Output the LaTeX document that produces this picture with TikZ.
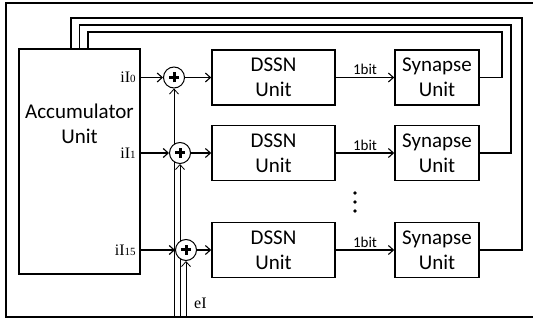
\documentclass[tikz,border=0pt]{standalone}
\usepackage{fontspec}
\setmainfont{Carlito}
\newfontfamily\serifcur{Liberation Serif}
\usetikzlibrary{arrows.meta,backgrounds}

\begin{document}
\begin{tikzpicture}[x=1pt, y=-1pt,
	unit/.style={draw, line width=1.6pt, minimum width=123pt, minimum height=55pt, inner sep=0pt, align=center, font=\fontsize{21}{25}\selectfont},
	synbox/.style={unit, minimum width=84pt},
	adder/.style={draw, circle, line width=1pt, fill=white, minimum size=21pt, inner sep=0pt,
		path picture={\draw[line width=3pt] (path picture bounding box.center) +(-5pt,0) -- +(5pt,0)
			(path picture bounding box.center) +(0,-5pt) -- +(0,5pt);}},
	arrow/.style={-{Straight Barb[length=5pt,width=9pt]}, line width=1.1pt},
	feed/.style={-{Straight Barb[length=5pt,width=9pt]}, line width=0.8pt},
	wire/.style={line width=1.2pt},
	bits/.style={above, inner sep=2pt, font=\fontsize{15}{15}\selectfont},
	current/.style={inner sep=1pt, font=\serifcur\fontsize{16}{16}\selectfont}
]
\useasboundingbox (0,0) rectangle (533,323);

% frame (right side runs off the page)
\draw[line width=2pt] (545,3) -- (6,3) -- (6,317) -- (545,317);

% accumulator
\node[draw, line width=1.6pt, minimum width=121pt, minimum height=225pt] (acc) at (79.5,161.5) {};
\node[align=center, font=\fontsize{21}{25}\selectfont] (acctext) at (79.5,124) {Accumulator\\Unit};

% adders
\node[adder] (s0) at (174,77.5) {};
\node[adder] (s1) at (180,153) {};
\node[adder] (s2) at (186,250) {};

% neuron and synapse units
\node[unit] (d0) at (273.5,77.5) {DSSN\\Unit};
\node[unit] (d1) at (273.5,153) {DSSN\\Unit};
\node[unit] (d2) at (273.5,250) {DSSN\\Unit};

\node[synbox] (p0) at (437,77.5) {Synapse\\Unit};
\node[synbox] (p1) at (437,153) {Synapse\\Unit};
\node[synbox] (p2) at (437,250) {Synapse\\Unit};

% currents out of the accumulator
\node[current, anchor=east] (i0) at ([xshift=-4pt]acc.east |- s0) {iI{\fontsize{11}{11}\selectfont 0}};
\node[current, anchor=east] (i1) at ([xshift=-4pt]acc.east |- s1) {iI{\fontsize{11}{11}\selectfont 1}};
\node[current, anchor=east] (i2) at ([xshift=-4pt]acc.east |- s2) {iI{\fontsize{11}{11}\selectfont 15}};

\draw[arrow] (acc.east |- s0) -- (s0);
\draw[arrow] (acc.east |- s1) -- (s1);
\draw[arrow] (acc.east |- s2) -- (s2);

\draw[arrow] (s0) -- (d0);
\draw[arrow] (s1) -- (d1);
\draw[arrow] (s2) -- (d2);

\draw[arrow] (d0) -- node[bits] {1bit} (p0);
\draw[arrow] (d1) -- node[bits] {1bit} (p1);
\draw[arrow] (d2) -- node[bits] {1bit} (p2);

% more rows
\foreach \y in {193,202,211}
	\fill (355,\y) circle (1.9pt);

% external input lines
\coordinate (e0) at (174,316);
\coordinate (e1) at (180,316);
\coordinate (e2) at (186,316);
\node[current, anchor=west] (ei) at (193,303) {eI};

\begin{scope}[on background layer]
\draw[feed] (e0) -- (s0);
\draw[feed] (e1) -- (s1);
\draw[feed] (e2) -- (s2);
\end{scope}

% feedback to the accumulator
\coordinate (f0) at (502,32);
\coordinate (f1) at (511,25);
\coordinate (f2) at (522,18);
\coordinate (t0) at (88,0);
\coordinate (t1) at (79.5,0);
\coordinate (t2) at (71,0);

\draw[wire] (p0.east) -| (f0) -| (t0 |- acc.north);
\draw[wire] (p1.east) -| (f1) -| (t1 |- acc.north);
\draw[wire] (p2.east) -| (f2) -| (t2 |- acc.north);
\end{tikzpicture}
\end{document}
